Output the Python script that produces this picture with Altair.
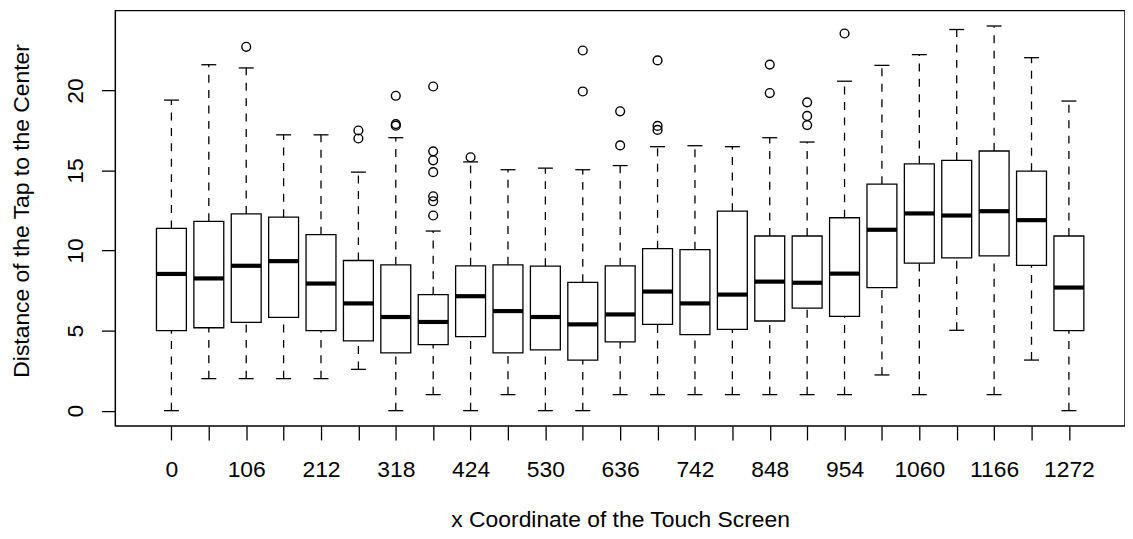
import altair as alt
import pandas as pd

# x categories (touch-screen x coordinate bins)
cats = [0, 53, 106, 159, 212, 265, 318, 371, 424, 477, 530, 583, 636,
        689, 742, 795, 848, 901, 954, 1007, 1060, 1113, 1166, 1219, 1272]
lower = [0.0, 2.0, 2.0, 2.0, 2.0, 2.58, 0.0, 1.0, 0.0, 1.0, 0.0, 0.0, 1.0,
         1.0, 1.0, 1.0, 1.0, 1.0, 1.0, 2.23, 1.0, 5.02, 1.0, 3.16, 0.0]
q1 = [5.00, 5.18, 5.52, 5.83, 5.00, 4.36, 3.61, 4.13, 4.63, 3.61, 3.80, 3.16, 4.30,
      5.39, 4.75, 5.08, 5.60, 6.40, 5.89, 7.69, 9.22, 9.55, 9.67, 9.07, 5.00]
median = [8.54, 8.26, 9.05, 9.34, 7.94, 6.70, 5.85, 5.54, 7.15, 6.22, 5.85, 5.39, 6.01,
          7.44, 6.70, 7.25, 8.06, 7.99, 8.56, 11.30, 12.32, 12.19, 12.46, 11.90, 7.69]
q3 = [11.39, 11.83, 12.29, 12.09, 10.99, 9.38, 9.11, 7.25, 9.05, 9.11, 9.03, 8.02, 9.05,
      10.12, 10.06, 12.46, 10.91, 10.91, 12.05, 14.15, 15.42, 15.64, 16.22, 14.96, 10.91]
upper = [19.40, 21.61, 21.41, 17.23, 17.23, 14.90, 17.05, 11.22, 15.54, 15.05, 15.15, 15.05, 15.31,
         16.49, 16.55, 16.49, 17.05, 16.78, 20.58, 21.57, 22.24, 23.81, 24.03, 22.05, 19.34]

outlier_x = [106, 265, 265, 318, 318, 318, 371, 371, 371, 371, 371, 371, 371,
             424, 583, 583, 636, 636, 689, 689, 689, 848, 848, 901, 901, 901, 954]
outlier_y = [22.73, 17.5, 17.0, 19.67, 17.9, 17.8, 20.25, 16.2, 15.64, 14.90, 13.39, 13.08, 12.19,
             15.83, 22.5, 19.94, 18.7, 16.57, 21.88, 17.79, 17.54, 21.62, 19.84, 19.26, 18.41, 17.84, 23.56]

step = 53
boxes = pd.DataFrame({"x": cats, "lower": lower, "q1": q1, "median": median,
                      "q3": q3, "upper": upper})
outs = pd.DataFrame({"x": outlier_x, "y": outlier_y})

FONT = "Liberation Sans"
FS = 23

xscale = alt.Scale(domain=[cats[0] - 1.5 * step, cats[-1] + 1.5 * step], nice=False, zero=False)
yscale = alt.Scale(domain=[-0.96, 24.99], nice=False, zero=False)

xaxis = alt.Axis(values=cats,
                 labelExpr=f"datum.value % {2*step} == 0 ? format(datum.value, 'd') : ''",
                 domain=False, grid=False, tickSize=14, tickWidth=1.3, tickColor="black",
                 labelPadding=18.5, labelFontSize=FS, labelFont=FONT, labelColor="black",
                 labelOverlap=False, labelFlush=False,
                 title="x Coordinate of the Touch Screen", titleFont=FONT, titleFontSize=FS,
                 titleFontWeight="normal", titleColor="black", titleBaseline="alphabetic",
                 titleY=101, titleX=508, titleAlign="center")
yaxis = alt.Axis(values=[0, 5, 10, 15, 20], domain=False, grid=False, tickSize=14,
                 tickWidth=1.3, tickColor="black", labelAngle=270, labelAlign="center",
                 labelBaseline="alphabetic", labelPadding=18.7, labelFontSize=FS,
                 labelFont=FONT, labelColor="black",
                 title="Distance of the Tap to the Center", titleFont=FONT, titleFontSize=FS,
                 titleFontWeight="normal", titleColor="black", titleAngle=270,
                 titleBaseline="alphabetic", titleAlign="center", titleX=-87, titleY=201)

base = alt.Chart(boxes).transform_calculate(
    xl="datum.x - 0.4 * %d" % step,
    xr="datum.x + 0.4 * %d" % step,
    cl="datum.x - 0.2 * %d" % step,
    cr="datum.x + 0.2 * %d" % step,
)

whisk_up = base.mark_rule(color="black", strokeWidth=1.3, strokeDash=[8, 7.5]).encode(
    x=alt.X("x:Q", scale=xscale, axis=xaxis),
    y=alt.Y("q3:Q", scale=yscale, axis=yaxis),
    y2="upper:Q",
)
whisk_lo = base.mark_rule(color="black", strokeWidth=1.3, strokeDash=[8, 7.5]).encode(
    x="x:Q", y="lower:Q", y2="q1:Q",
)
cap_up = base.mark_rule(color="black", strokeWidth=1.3).encode(
    x="cl:Q", x2="cr:Q", y="upper:Q",
)
cap_lo = base.mark_rule(color="black", strokeWidth=1.3).encode(
    x="cl:Q", x2="cr:Q", y="lower:Q",
)
box = base.mark_rect(fill="white", stroke="black", strokeWidth=1.3).encode(
    x="xl:Q", x2="xr:Q", y="q1:Q", y2="q3:Q",
)
med = base.mark_rule(color="black", strokeWidth=4.2).encode(
    x="xl:Q", x2="xr:Q", y="median:Q",
)
pts = alt.Chart(outs).mark_point(shape="circle", filled=False, color="black",
                                 size=78, strokeWidth=1.4, opacity=1).encode(
    x="x:Q", y="y:Q",
)

chart = alt.layer(whisk_up, whisk_lo, cap_up, cap_lo, box, med, pts).properties(
    width=1016, height=418,
    autosize=alt.AutoSizeParams(type="none"),
    padding={"left": 108, "top": 1, "right": 0, "bottom": 104},
    background="white",
).configure_view(stroke="black", strokeWidth=1.5)

chart.save("out.html", embed_options={"renderer": "svg", "actions": False})
